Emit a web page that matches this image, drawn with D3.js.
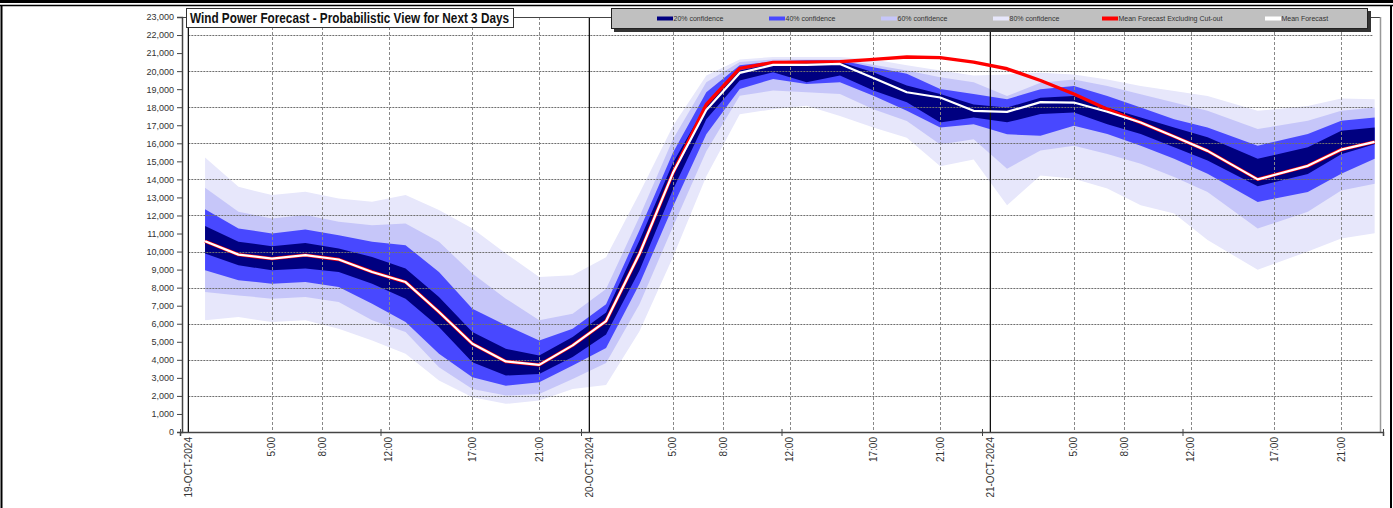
<!DOCTYPE html>
<html>
<head>
<meta charset="utf-8">
<script src="https://cdn.jsdelivr.net/npm/d3@7"></script>
<style>
  html, body { margin: 0; padding: 0; background: #ffffff; }
  svg { display: block; }
</style>
</head>
<body>
<svg id="chart" width="1393" height="508"></svg>
<script>
// ---------------- DATA ----------------
const chartTitle = "Wind Power Forecast - Probabilistic View for Next 3 Days";
const dayLabels = ["19-OCT-2024", "20-OCT-2024", "21-OCT-2024"];
const hourTickHours = [5, 8, 12, 17, 21];
const hourTickLabels = ["5:00", "8:00", "12:00", "17:00", "21:00"];
const yTickValues = [0,1000,2000,3000,4000,5000,6000,7000,8000,9000,10000,11000,12000,13000,14000,15000,16000,17000,18000,19000,20000,21000,22000,23000];
const yGridValues = [2000,4000,6000,8000,10000,12000,14000,16000,18000,20000,22000];
const legendLabels = ["20% confidence", "40% confidence", "60% confidence", "80% confidence", "Mean Forecast Excluding Cut-out", "Mean Forecast"];

// hours since 19-OCT-2024 00:00
const hours = [1,3,5,7,9,11,13,15,17,19,21,23,25,27,29,31,33,35,37,39,41,43,45,47,49,51,53,55,57,59,61,64,67,69,71];

const meanForecast = [10570,9830,9610,9800,9560,8870,8310,6650,4890,3910,3720,4800,6150,9880,14350,17850,19900,20350,20350,20400,19620,18830,18540,17800,17740,18280,18260,17750,17150,16380,15580,14000,14750,15650,16080];
const meanExclCutout = [10570,9830,9610,9800,9560,8870,8310,6650,4890,3910,3720,4800,6150,9880,14350,18150,20150,20480,20500,20520,20650,20780,20750,20500,20130,19480,18730,17890,17150,16380,15580,14000,14750,15650,16080];

const p20Upper = [11410,10540,10300,10480,10170,9700,9060,7480,5540,4610,4240,5260,6620,10620,14910,18170,20040,20410,20470,20500,19940,19200,18730,18150,17980,18530,18620,17980,17430,16880,16330,15140,15780,16700,16880];
const p20Lower = [9890,9240,8960,9060,8870,8220,7390,5820,3870,3130,3220,4150,5400,8950,13420,17330,19480,19940,19390,19760,18920,18270,17150,17430,17160,17620,17710,17060,16510,15780,15050,13620,14300,15400,15950];
const p40Upper = [12350,11280,11000,11220,10910,10540,10350,8870,6830,5910,5070,5720,7080,11180,15470,18830,20320,20540,20600,20600,20220,19850,19010,18730,18440,19000,19170,18620,17980,17340,16880,15870,16510,17250,17430];
const p40Lower = [8960,8410,8220,8320,8040,7110,6090,4330,3040,2570,2760,3690,4660,8200,12490,16500,19010,19570,19290,19390,18640,17800,16870,17060,16500,16420,16970,16510,15870,15140,14310,12750,13300,14310,15140];
const p60Upper = [13540,12200,11830,12020,11650,11460,11560,10540,8780,7390,6190,6560,7920,11930,16220,19390,20500,20650,20650,20650,20350,20040,19660,19390,18620,19360,19540,19170,18720,18260,17800,16790,17250,17800,17980];
const p60Lower = [7760,7570,7390,7480,7200,6190,5540,3590,2390,2020,2110,2940,3820,7080,11370,15560,18640,18920,18830,18730,17890,17240,15940,16220,14590,15600,15870,15410,14860,14130,13300,11280,12200,13390,13760];
const p80Upper = [15220,13590,13130,13320,12940,12760,13130,12300,11280,9890,8590,8690,9690,13230,16960,19760,20650,20780,20780,20780,20650,20320,20040,19760,19820,19910,19820,19540,19170,18900,18620,17800,18070,18480,18440];
const p80Lower = [6190,6370,6090,6190,5720,5070,4330,2850,1930,1560,1740,2390,2610,5590,9690,14170,17610,17890,18080,17520,16870,16310,14730,15100,12570,14220,14040,13490,12570,12110,10640,8990,10000,10730,11010];

// ---------------- STYLE ----------------
const colors = {
  p20: "#000080",
  p40: "#4848ff",
  p60: "#c6c6f9",
  p80: "#e7e7fb",
  red: "#ff0000",
  white: "#ffffff"
};
const narrow = "'Liberation Sans Narrow', 'Arial Narrow', 'Liberation Sans', Arial, sans-serif";
const regular = "'Liberation Sans', Arial, sans-serif";

// ---------------- CHART ----------------
const svg = d3.select("#chart");
const plot = { left: 180, right: 1383, top: 17, bottom: 432 };

const x = d3.scaleLinear().domain([-0.5, 71.5]).range([plot.left, plot.right]);
const y = d3.scaleLinear().domain([0, 23000]).range([plot.bottom, plot.top]);

// outer frame
svg.append("rect").attr("x", 0).attr("y", 0).attr("width", 1393).attr("height", 3).attr("fill", "#000");
svg.append("line").attr("x1", 0).attr("x2", 1393).attr("y1", 5.5).attr("y2", 5.5).attr("stroke", "#000").attr("stroke-width", 1.5);
svg.append("line").attr("x1", 1.5).attr("x2", 1.5).attr("y1", 6).attr("y2", 508).attr("stroke", "#000").attr("stroke-width", 2);
svg.append("line").attr("x1", 1391).attr("x2", 1391).attr("y1", 6).attr("y2", 508).attr("stroke", "#000").attr("stroke-width", 2);

const rows = hours.map((h, i) => ({
  h,
  mean: meanForecast[i], red: meanExclCutout[i],
  u20: p20Upper[i], l20: p20Lower[i],
  u40: p40Upper[i], l40: p40Lower[i],
  u60: p60Upper[i], l60: p60Lower[i],
  u80: p80Upper[i], l80: p80Lower[i]
}));

const bands = [
  { key: "80", color: colors.p80 },
  { key: "60", color: colors.p60 },
  { key: "40", color: colors.p40 },
  { key: "20", color: colors.p20 }
];
bands.forEach(b => {
  const area = d3.area()
    .x(d => x(d.h))
    .y0(d => y(d["l" + b.key]))
    .y1(d => y(d["u" + b.key]));
  svg.append("path").datum(rows).attr("d", area).attr("fill", b.color);
});

// horizontal dotted grid
svg.append("g").selectAll("line").data(yGridValues).join("line")
  .attr("x1", x(0)).attr("x2", x(71) - 2)
  .attr("y1", d => Math.round(y(d)) + 0.5).attr("y2", d => Math.round(y(d)) + 0.5)
  .attr("stroke", "#6f6f6f").attr("stroke-width", 1).attr("stroke-dasharray", "2,1");

// vertical hour grid (dashed)
const hourTickPositions = [];
dayLabels.forEach((d, di) => hourTickHours.forEach((h, hi) => hourTickPositions.push({ h: di * 24 + h, label: hourTickLabels[hi] })));
svg.append("g").selectAll("line").data(hourTickPositions).join("line")
  .attr("x1", d => Math.round(x(d.h)) + 0.5).attr("x2", d => Math.round(x(d.h)) + 0.5)
  .attr("y1", plot.top).attr("y2", plot.bottom)
  .attr("stroke", "#888").attr("stroke-width", 1).attr("stroke-dasharray", "3,2");

// day lines (solid)
svg.append("g").selectAll("line").data(dayLabels).join("line")
  .attr("x1", (d, i) => x(i * 24)).attr("x2", (d, i) => x(i * 24))
  .attr("y1", plot.top).attr("y2", plot.bottom)
  .attr("stroke", "#111").attr("stroke-width", 1.3);

// lines
const lineGen = key => d3.line().x(d => x(d.h)).y(d => y(d[key]));
svg.append("path").datum(rows).attr("d", lineGen("red"))
  .attr("fill", "none").attr("stroke", colors.red).attr("stroke-width", 3.4).attr("stroke-linejoin", "round");
svg.append("path").datum(rows).attr("d", lineGen("mean"))
  .attr("fill", "none").attr("stroke", colors.white).attr("stroke-width", 2.2).attr("stroke-linejoin", "round");

// plot frame (top / right)
svg.append("line").attr("x1", plot.left).attr("x2", 1380).attr("y1", plot.top + 0.5).attr("y2", plot.top + 0.5).attr("stroke", "#444");
svg.append("line").attr("x1", 1380.5).attr("x2", 1380.5).attr("y1", plot.top).attr("y2", plot.bottom).attr("stroke", "#999").attr("stroke-width", 1.5);

// Y axis
const yAxis = d3.axisLeft(y).tickValues(yTickValues).tickFormat(d3.format(",")).tickSizeOuter(0).tickSize(5).tickPadding(3);
const yg = svg.append("g").attr("transform", `translate(${plot.left + 2},0)`).call(yAxis);
yg.select(".domain").attr("stroke", "#444").attr("stroke-width", 1.5);
yg.selectAll(".tick line").attr("stroke", "#444");
yg.selectAll("text").attr("font-family", regular).attr("font-size", 9).attr("fill", "#333");

// X axis (category boundary ticks every 12 h)
const xAxis = d3.axisBottom(x).tickValues([-0.5, 11.5, 23.5, 35.5, 47.5, 59.5, 71.5]).tickFormat("").tickSizeOuter(0).tickSize(4);
const xg = svg.append("g").attr("transform", `translate(0,${plot.bottom})`).call(xAxis);
xg.select(".domain").attr("stroke", "#444").attr("stroke-width", 1.5);
xg.selectAll(".tick line").attr("stroke", "#444").attr("y1", -3);

// X labels
const xLabels = [];
dayLabels.forEach((d, i) => xLabels.push({ h: i * 24, label: d }));
hourTickPositions.forEach(p => xLabels.push(p));
svg.append("g").selectAll("text").data(xLabels).join("text")
  .attr("transform", d => `translate(${x(d.h)},${plot.bottom + 5}) rotate(-90)`)
  .attr("text-anchor", "end").attr("dy", "0.35em")
  .attr("font-family", regular).attr("font-size", 10).attr("fill", "#333")
  .text(d => d.label);

// Title box
svg.append("rect").attr("x", 186.5).attr("y", 8.5).attr("width", 327).attr("height", 19)
  .attr("fill", "#fff").attr("stroke", "#333").attr("stroke-width", 1);
svg.append("text").attr("x", 190).attr("y", 23)
  .attr("font-family", narrow).attr("font-weight", "bold").attr("font-size", 14).attr("fill", "#111")
  .attr("textLength", 319).attr("lengthAdjust", "spacingAndGlyphs")
  .text(chartTitle);

// Legend
svg.append("rect").attr("x", 614).attr("y", 11).attr("width", 757).attr("height", 21).attr("fill", "#333");
svg.append("rect").attr("x", 611.5).attr("y", 8.5).attr("width", 756).attr("height", 20)
  .attr("fill", "#c0c0c0").attr("stroke", "#222").attr("stroke-width", 1);
const legendItems = [
  { label: legendLabels[0], color: colors.p20, x: 657 },
  { label: legendLabels[1], color: colors.p40, x: 769 },
  { label: legendLabels[2], color: colors.p60, x: 881 },
  { label: legendLabels[3], color: colors.p80, x: 993 },
  { label: legendLabels[4], color: colors.red, x: 1102 },
  { label: legendLabels[5], color: colors.white, x: 1265 }
];
const lg = svg.append("g").selectAll("g").data(legendItems).join("g")
  .attr("transform", d => `translate(${d.x},18.5)`);
lg.append("rect").attr("x", 0).attr("y", -2).attr("width", 16).attr("height", 4).attr("fill", d => d.color);
lg.append("text").attr("x", 16.5).attr("y", 2.5)
  .attr("font-family", narrow).attr("font-size", 7).attr("fill", "#333")
  .text(d => d.label);
</script>
</body>
</html>
